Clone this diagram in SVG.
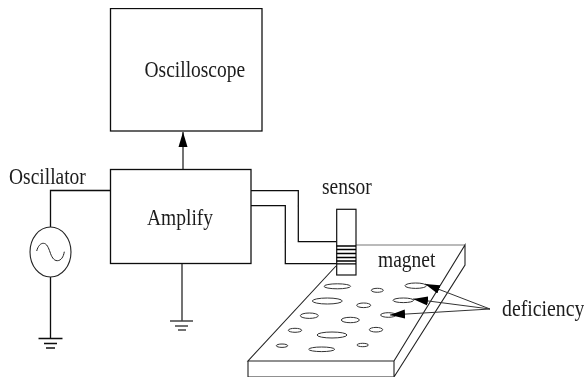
<svg xmlns="http://www.w3.org/2000/svg" width="584" height="379" viewBox="0 0 584 379">
<style>
text{font-family:"Liberation Serif","Times New Roman",serif;font-size:19.5px;fill:#1c1c1c}
.l{fill:none;stroke:#111;stroke-width:1.3}
.g{fill:none;stroke:#444;stroke-width:1.5}
.h{fill:none;stroke:#222;stroke-width:1}
.p{fill:none;stroke:#222;stroke-width:1.1}
.d{fill:none;stroke:#333;stroke-width:1}
</style>
<defs>
<filter id="b" x="0" y="0" width="100%" height="100%"><feGaussianBlur stdDeviation="0.4"/></filter>
<marker id="a" markerUnits="userSpaceOnUse" markerWidth="15" markerHeight="10" refX="15" refY="5" orient="auto"><path d="M0 0.500 L15 5 L0 9.500Z" fill="#000"/></marker>
</defs>
<rect width="584" height="379" fill="#fff"/>
<g filter="url(#b)">
<g id="connectors">
<path class="g" d="M183 169V132" marker-end="url(#a)"/>
<path class="l" d="M110.500 190.500H50.500V227M50.500 277V338"/>
<path class="g" d="M182 263.500V321"/>
<path class="l" d="M251 190.700H298.300V241.700H336.700M251 205.700H285.300V263.700H336.700"/>
</g>
<g id="oscilloscope"><rect class="l" x="110.500" y="8.500" width="151.500" height="122.500" fill="none"/><text transform="translate(144.500 77) scale(1 1.18)">Oscilloscope</text></g>
<g id="amplify"><rect class="l" x="110.500" y="169.500" width="140.500" height="94"/><text transform="translate(147 225) scale(1 1.18)">Amplify</text></g>
<g id="oscillator"><text transform="translate(9 184) scale(1 1.18)">Oscillator</text><ellipse class="p" cx="50.500" cy="252" rx="20.500" ry="25"/><path class="h" d="M36.700 251C38 246 40.500 243.300 43.300 243.300C47 243.300 48.500 248 50 252C51.500 256.500 53.500 260.700 57.300 260.700C61 260.700 63.500 257 64.300 251.700"/></g>
<g id="ground1"><path class="l" d="M38.500 338.500H62.500M44 343.500H57M46 348H55"/></g>
<g id="ground2"><path class="g" d="M170 321H193M175 326H188M178 330H186"/></g>
<g id="magnet">
<path d="M356 245H465" fill="none" stroke="#777" stroke-width="1.2"/>
<path class="p" d="M336 266L248 361H394L465 245V265L394 377H248V361M394 361V377"/>
<text transform="translate(378 266.500) scale(1 1.18)">magnet</text>
<g class="d">
<ellipse cx="337.300" cy="286.300" rx="13.300" ry="2.500"/><ellipse cx="377.300" cy="290.300" rx="6" ry="2"/><ellipse cx="415.700" cy="285.700" rx="10.700" ry="2.700"/><ellipse cx="327.300" cy="301" rx="15" ry="3"/><ellipse cx="363.700" cy="305.300" rx="7" ry="2.300"/><ellipse cx="403.300" cy="300.300" rx="10.300" ry="2.300"/><ellipse cx="309.300" cy="315.700" rx="9" ry="2.700"/><ellipse cx="350.300" cy="320" rx="9" ry="2.700"/><ellipse cx="388.300" cy="315" rx="7.700" ry="2.300"/><ellipse cx="295" cy="330.300" rx="6.700" ry="2"/><ellipse cx="332" cy="335" rx="15" ry="3"/><ellipse cx="376" cy="329.700" rx="6.700" ry="2.300"/><ellipse cx="282" cy="345.700" rx="5.700" ry="1.700"/><ellipse cx="321.700" cy="349.300" rx="13" ry="2.300"/><ellipse cx="362.700" cy="345" rx="5.700" ry="1.700"/>
</g>
</g>
<g id="sensor"><text transform="translate(322 194) scale(1 1.18)">sensor</text><rect x="336.700" y="209.300" width="19.300" height="65.700" fill="#fff" stroke="#111" stroke-width="1.200"/><path stroke="#000" stroke-width="1.300" d="M336.700 246H356M336.700 249.500H356M336.700 253.500H356M336.700 257.500H356M336.700 261H356M336.700 263.800H356"/></g>
<g id="deficiency"><text transform="translate(502 315.500) scale(1 1.15)" style="font-size:19.800px">deficiency</text>
<path class="d" d="M490 309L425 284" marker-end="url(#a)"/><path class="d" d="M490 309L413 299" marker-end="url(#a)"/><path class="d" d="M490 309L390 315" marker-end="url(#a)"/></g>
</g>
</svg>
